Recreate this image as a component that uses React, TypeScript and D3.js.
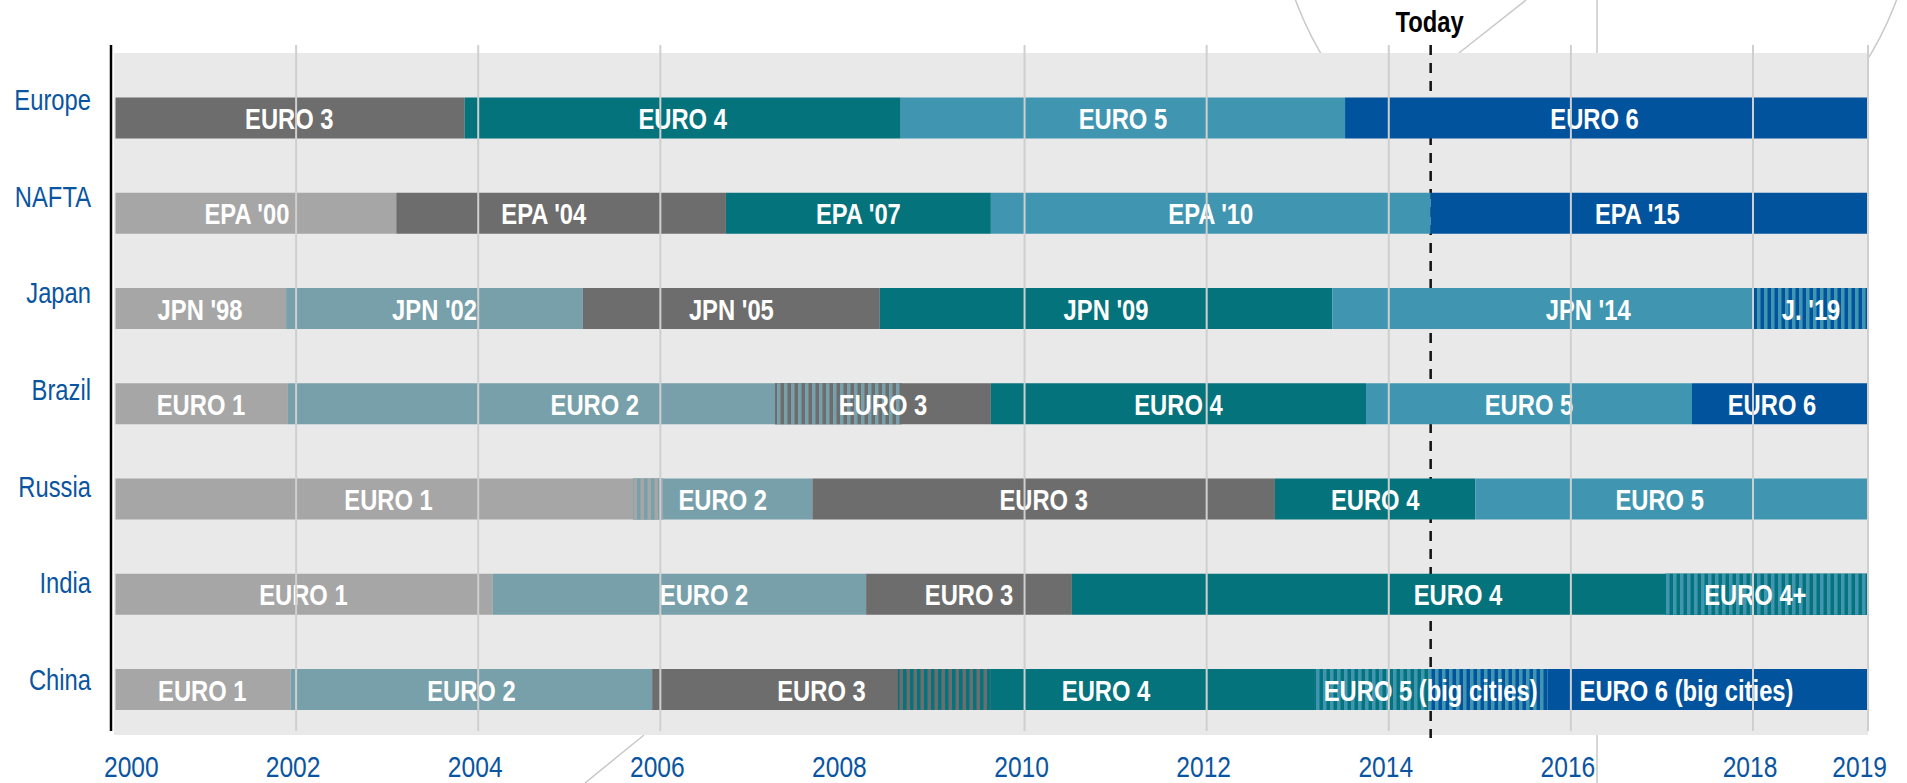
import React from "react";
import * as d3 from "d3";

// ---------- DATA ----------
const countries = ["Europe", "NAFTA", "Japan", "Brazil", "Russia", "India", "China"];

type Stage = { label: string; from: number; to: number; level: string; labelAt?: number };
type Transition = { from: number; to: number; base: string; stripe: string };

const europeStages: Stage[] = [
  { label: "EURO 3", from: 2000, to: 2003.85, level: "l3" },
  { label: "EURO 4", from: 2003.85, to: 2008.64, level: "l4" },
  { label: "EURO 5", from: 2008.64, to: 2013.52, level: "l5" },
  { label: "EURO 6", from: 2013.52, to: 2019, level: "l6" },
];
const naftaStages: Stage[] = [
  { label: "EPA '00", from: 2000, to: 2003.1, level: "l1", labelAt: 2001.46 },
  { label: "EPA '04", from: 2003.1, to: 2006.72, level: "l3", labelAt: 2004.72 },
  { label: "EPA '07", from: 2006.72, to: 2009.63, level: "l4" },
  { label: "EPA '10", from: 2009.63, to: 2014.46, level: "l5" },
  { label: "EPA '15", from: 2014.46, to: 2019, level: "l6" },
];
const japanStages: Stage[] = [
  { label: "JPN '98", from: 2000, to: 2001.89, level: "l1" },
  { label: "JPN '02", from: 2001.89, to: 2005.15, level: "l2" },
  { label: "JPN '05", from: 2005.15, to: 2008.41, level: "l3" },
  { label: "JPN '09", from: 2008.41, to: 2013.38, level: "l4" },
  { label: "JPN '14", from: 2013.38, to: 2019, level: "l5" },
  { label: "J. '19", from: 2018.01, to: 2019, level: "l6" },
];
const brazilStages: Stage[] = [
  { label: "EURO 1", from: 2000, to: 2001.91, level: "l1" },
  { label: "EURO 2", from: 2001.91, to: 2008.65, level: "l2" },
  { label: "EURO 3", from: 2007.26, to: 2009.63, level: "l3" },
  { label: "EURO 4", from: 2009.63, to: 2013.75, level: "l4" },
  { label: "EURO 5", from: 2013.75, to: 2017.33, level: "l5" },
  { label: "EURO 6", from: 2017.33, to: 2019, level: "l6" },
];
const russiaStages: Stage[] = [
  { label: "EURO 1", from: 2000, to: 2006.03, level: "l1" },
  { label: "EURO 2", from: 2005.7, to: 2007.67, level: "l2" },
  { label: "EURO 3", from: 2007.67, to: 2012.75, level: "l3" },
  { label: "EURO 4", from: 2012.75, to: 2014.95, level: "l4" },
  { label: "EURO 5", from: 2014.95, to: 2019, level: "l5" },
];
const indiaStages: Stage[] = [
  { label: "EURO 1", from: 2000, to: 2004.16, level: "l1" },
  { label: "EURO 2", from: 2004.16, to: 2008.26, level: "l2", labelAt: 2006.48 },
  { label: "EURO 3", from: 2008.26, to: 2010.52, level: "l3" },
  { label: "EURO 4", from: 2010.52, to: 2019, level: "l4" },
  { label: "EURO 4+", from: 2017.04, to: 2019, level: "l4" },
];
const chinaStages: Stage[] = [
  { label: "EURO 1", from: 2000, to: 2001.94, level: "l1" },
  { label: "EURO 2", from: 2001.94, to: 2005.91, level: "l2" },
  { label: "EURO 3", from: 2005.91, to: 2009.63, level: "l3" },
  { label: "EURO 4", from: 2008.61, to: 2013.18, level: "l4" },
  { label: "EURO 5 (big cities)", from: 2013.18, to: 2015.74, level: "l5" },
  { label: "EURO 6 (big cities)", from: 2015.74, to: 2019, level: "l6", labelAt: 2017.27 },
];

const japanTransitions: Transition[] = [{ from: 2018.01, to: 2019, base: "l6", stripe: "l5" }];
const brazilTransitions: Transition[] = [{ from: 2007.26, to: 2008.65, base: "l3", stripe: "l2" }];
const russiaTransitions: Transition[] = [{ from: 2005.7, to: 2006.03, base: "l1", stripe: "l2" }];
const indiaTransitions: Transition[] = [{ from: 2017.04, to: 2019, base: "l4", stripe: "l5" }];
const chinaTransitions: Transition[] = [
  { from: 2008.61, to: 2009.63, base: "l3", stripe: "l4" },
  { from: 2013.18, to: 2014.46, base: "l4", stripe: "l5" },
  { from: 2014.46, to: 2015.74, base: "l6", stripe: "l5" },
];

const stagesByCountry: Record<string, Stage[]> = {
  Europe: europeStages, NAFTA: naftaStages, Japan: japanStages, Brazil: brazilStages,
  Russia: russiaStages, India: indiaStages, China: chinaStages,
};
const transitionsByCountry: Record<string, Transition[]> = {
  Japan: japanTransitions, Brazil: brazilTransitions, Russia: russiaTransitions,
  India: indiaTransitions, China: chinaTransitions,
};

const tickYears = [2000, 2002, 2004, 2006, 2008, 2010, 2012, 2014, 2016, 2018, 2019];
const gridYears = [2002, 2004, 2006, 2010, 2012, 2014, 2016, 2018, 2019];
const todayYear = 2014.46;
const todayLabel = "Today";

// ---------- STYLE ----------
const W = 1907, H = 783;
const colors: Record<string, string> = {
  l1: "#a6a6a6", l2: "#77a0aa", l3: "#6d6d6d", l4: "#05737c", l5: "#4096b1", l6: "#02539d",
};
const FONT = "'Liberation Sans', Arial, sans-serif";
const NARROW_SCALE = 0.82;
const BLUE = "#0a55a0";
const plotTop = 53, plotBottom = 735, plotLeft = 114, plotRight = 1868;
const barH = 41;

function NText(props: {
  x: number; y: number; anchor?: "start" | "middle" | "end"; size: number; bold?: boolean; fill: string; children: React.ReactNode;
}) {
  const { x, y, anchor = "middle", size, bold, fill, children } = props;
  return (
    <text transform={`translate(${x},${y}) scale(${NARROW_SCALE},1)`} textAnchor={anchor}
      fontFamily={FONT} fontWeight={bold ? "bold" : "normal"} fontSize={size} fill={fill}>
      {children}
    </text>
  );
}

export default function App() {
  const x = d3.scaleLinear().domain([2000, 2018, 2019]).range([plotLeft, 1753, plotRight]);
  const y = d3.scalePoint<string>().domain(countries).range([118, 689.5]);
  const yLabel = d3.scalePoint<string>().domain(countries).range([110, 690]);

  const pairs = new Set<string>();
  Object.values(transitionsByCountry).forEach((ts) => ts.forEach((t) => pairs.add(t.base + "-" + t.stripe)));

  return (
    <svg width={W} height={H} style={{ position: "absolute", left: 0, top: 0, background: "#fff" }}>
      <defs>
        {Array.from(pairs).map((p) => {
          const [b, s] = p.split("-");
          return (
            <pattern key={p} id={"st-" + p} patternUnits="userSpaceOnUse" width={7} height={10}>
              <rect x={0} y={0} width={7} height={10} fill={colors[b]} />
              <rect x={0} y={0} width={3.5} height={10} fill={colors[s]} />
            </pattern>
          );
        })}
      </defs>

      {/* decorative leftovers */}
      <g stroke="#c8c8c8" strokeWidth={1.5} fill="none">
        <circle cx={1596} cy={-110} r={320} />
        <line x1={1459} y1={53} x2={1526} y2={0} />
        <line x1={644} y1={735} x2={585} y2={783} />
        <line x1={1597} y1={0} x2={1597} y2={53} />
        <line x1={1597} y1={735} x2={1597} y2={783} />
      </g>

      <rect x={plotLeft} y={plotTop} width={plotRight - plotLeft} height={plotBottom - plotTop} fill="#e9e9e9" />

      {/* today line (behind bars) */}
      <line x1={x(todayYear)} x2={x(todayYear)} y1={45} y2={738} stroke="#111" strokeWidth={2.5} strokeDasharray="10,8" />
      <NText x={x(todayYear) - 1} y={32} size={29} bold fill="#000">{todayLabel}</NText>

      {/* bars */}
      {countries.map((c) => {
        const cy = y(c)!;
        const stages = stagesByCountry[c];
        const trans = transitionsByCountry[c] || [];
        return (
          <g key={c}>
            {stages.map((s, i) => (
              <rect key={i} x={x(s.from) + (s.from === 2000 ? 1.5 : 0)} y={cy - barH / 2}
                width={x(s.to) - x(s.from) - (s.from === 2000 ? 1.5 : 0)} height={barH} fill={colors[s.level]} />
            ))}
            {trans.map((t, i) => (
              <rect key={"t" + i} x={x(t.from)} y={cy - barH / 2} width={x(t.to) - x(t.from)} height={barH}
                fill={`url(#st-${t.base}-${t.stripe})`} />
            ))}
            {stages.map((s, i) => (
              <NText key={"l" + i} x={x(s.labelAt ?? (s.from + s.to) / 2)} y={cy + 11} size={29} bold fill="#fff">
                {s.label}
              </NText>
            ))}
            <NText x={91} y={yLabel(c)!} anchor="end" size={29} fill={BLUE}>{c}</NText>
          </g>
        );
      })}

      {/* gridlines on top */}
      {gridYears.map((g) => (
        <line key={g} x1={x(g)} x2={x(g)} y1={45} y2={731} stroke="#cfcfcf" strokeWidth={2} />
      ))}

      {/* axis */}
      <line x1={111} x2={111} y1={45} y2={731} stroke="#000" strokeWidth={2.5} />

      {tickYears.map((t, i) => {
        const first = i === 0;
        const last = i === tickYears.length - 1;
        return (
          <NText key={t} x={first ? x(t) - 10 : last ? x(t) + 19 : x(t) - 3} y={777}
            anchor={first ? "start" : last ? "end" : "middle"} size={30} fill={BLUE}>
            {t}
          </NText>
        );
      })}
    </svg>
  );
}
